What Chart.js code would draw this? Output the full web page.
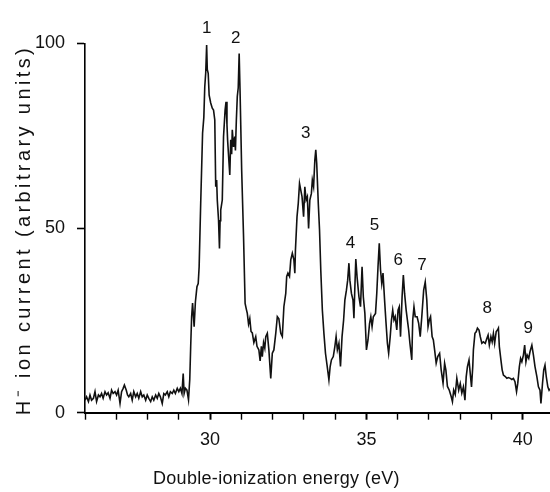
<!DOCTYPE html>
<html>
<head>
<meta charset="utf-8">
<script src="https://cdn.jsdelivr.net/npm/chart.js@4.4.0/dist/chart.umd.min.js"></script>
<style>
  html, body { margin: 0; padding: 0; background: #fff; }
  #wrap { width: 550px; height: 492px; }
</style>
</head>
<body>
<div id="wrap"><canvas id="chart" width="550" height="492"></canvas></div>
<script>
// double-ionization energy (eV)
const energy = [
  26.00, 26.05, 26.11, 26.16, 26.21, 26.27, 26.32, 26.37, 26.43, 26.48, 26.53, 26.58, 26.64, 26.69, 26.74, 26.80,
  26.85, 26.90, 26.96, 27.01, 27.06, 27.12, 27.17, 27.22, 27.26, 27.32, 27.36, 27.40, 27.46, 27.51, 27.56, 27.62,
  27.67, 27.72, 27.78, 27.83, 27.88, 27.94, 27.99, 28.04, 28.10, 28.15, 28.20, 28.26, 28.31, 28.36, 28.41, 28.47,
  28.52, 28.57, 28.63, 28.68, 28.73, 28.79, 28.84, 28.89, 28.95, 29.00, 29.05, 29.10, 29.14, 29.17, 29.21, 29.26,
  29.31, 29.35, 29.38, 29.41, 29.44, 29.49, 29.53, 29.58, 29.62, 29.65, 29.70, 29.76, 29.80, 29.83, 29.86, 29.89,
  29.91, 29.94, 29.97, 30.02, 30.07, 30.11, 30.15, 30.18, 30.21, 30.23, 30.27, 30.30, 30.32, 30.34, 30.39, 30.43,
  30.48, 30.51, 30.54, 30.56, 30.60, 30.63, 30.66, 30.69, 30.71, 30.75, 30.79, 30.81, 30.84, 30.87, 30.90, 30.93,
  30.96, 31.01, 31.07, 31.12, 31.16, 31.19, 31.23, 31.27, 31.31, 31.35, 31.40, 31.46, 31.50, 31.56, 31.60, 31.64,
  31.67, 31.71, 31.75, 31.78, 31.83, 31.88, 31.94, 31.99, 32.04, 32.10, 32.15, 32.20, 32.26, 32.31, 32.36, 32.42,
  32.45, 32.49, 32.54, 32.58, 32.63, 32.68, 32.71, 32.73, 32.78, 32.82, 32.86, 32.90, 32.94, 32.99, 33.03, 33.07,
  33.11, 33.15, 33.19, 33.24, 33.27, 33.31, 33.35, 33.38, 33.41, 33.46, 33.50, 33.54, 33.59, 33.64, 33.69, 33.76,
  33.80, 33.84, 33.88, 33.94, 33.99, 34.03, 34.07, 34.12, 34.17, 34.22, 34.27, 34.31, 34.36, 34.40, 34.44, 34.47,
  34.52, 34.57, 34.60, 34.63, 34.66, 34.70, 34.76, 34.81, 34.86, 34.90, 34.95, 35.00, 35.05, 35.10, 35.14, 35.18,
  35.22, 35.29, 35.33, 35.37, 35.41, 35.45, 35.49, 35.53, 35.58, 35.62, 35.67, 35.71, 35.76, 35.80, 35.84, 35.88,
  35.92, 35.97, 36.01, 36.05, 36.09, 36.14, 36.18, 36.22, 36.27, 36.31, 36.35, 36.39, 36.45, 36.48, 36.52, 36.56,
  36.62, 36.67, 36.72, 36.77, 36.83, 36.88, 36.93, 36.97, 37.01, 37.05, 37.10, 37.14, 37.18, 37.23, 37.28, 37.34,
  37.39, 37.45, 37.50, 37.54, 37.59, 37.65, 37.71, 37.75, 37.79, 37.84, 37.89, 37.95, 38.00, 38.05, 38.10, 38.15,
  38.19, 38.23, 38.28, 38.32, 38.36, 38.40, 38.42, 38.47, 38.51, 38.55, 38.60, 38.64, 38.69, 38.74, 38.80, 38.85,
  38.89, 38.93, 38.98, 39.02, 39.06, 39.10, 39.15, 39.19, 39.22, 39.25, 39.30, 39.34, 39.38, 39.44, 39.49, 39.54,
  39.60, 39.65, 39.70, 39.75, 39.80, 39.84, 39.89, 39.93, 39.97, 40.02, 40.06, 40.10, 40.14, 40.19, 40.23, 40.29,
  40.34, 40.39, 40.45, 40.50, 40.55, 40.58, 40.63, 40.67, 40.71, 40.75, 40.80, 40.84, 40.87
];

// H- ion current (arbitrary units)
const current = [
  3.4, 4.3, 3.0, 4.8, 3.4, 3.9, 5.7, 3.0, 4.8, 4.3, 5.2, 3.9, 5.7, 4.8, 5.4, 3.9,
  6.1, 5.2, 5.7, 4.8, 6.1, 2.5, 5.7, 6.6, 7.5, 6.1, 4.8, 4.3, 5.2, 3.4, 5.7, 4.3,
  5.2, 3.9, 5.7, 4.3, 4.8, 3.4, 4.8, 3.9, 3.0, 4.3, 3.4, 4.8, 3.9, 5.2, 4.3, 2.5,
  5.2, 4.8, 5.7, 4.3, 5.7, 5.2, 6.1, 5.2, 6.6, 5.7, 6.6, 5.2, 10.6, 5.2, 6.6, 6.1,
  3.5, 9.0, 18.0, 26.0, 29.7, 23.3, 30.0, 34.1, 35.0, 39.5, 56.8, 75.7, 80.0, 88.3, 92.0, 99.6,
  93.0, 91.9, 86.0, 83.9, 82.5, 82.0, 79.3, 61.2, 63.0, 57.6, 52.2, 44.5, 52.0, 54.9, 57.6, 74.8,
  82.0, 84.2, 78.0, 73.9, 68.4, 64.4, 73.9, 70.0, 76.6, 72.0, 74.8, 71.0, 79.3, 85.6, 88.0, 97.3,
  86.5, 65.7, 47.7, 29.6, 28.0, 26.9, 24.0, 25.5, 22.0, 21.6, 19.0, 20.6, 18.0, 17.0, 14.0, 18.0,
  15.2, 19.0, 17.5, 20.6, 21.5, 17.0, 9.3, 16.1, 17.0, 21.5, 26.0, 25.4, 21.5, 20.6, 28.7, 32.3,
  36.9, 37.8, 36.9, 41.4, 43.2, 41.4, 37.8, 44.1, 53.1, 56.7, 62.1, 60.3, 58.5, 53.1, 61.2, 57.6,
  58.5, 49.9, 57.6, 59.4, 63.0, 61.2, 68.4, 71.2, 67.5, 56.7, 49.5, 38.6, 27.8, 21.5, 16.1, 11.6,
  8.9, 12.5, 14.3, 15.2, 17.9, 20.6, 17.0, 18.8, 12.5, 20.6, 25.1, 30.5, 33.2, 35.9, 40.5, 35.9,
  32.3, 30.5, 25.6, 34.1, 41.6, 36.8, 31.4, 28.7, 39.5, 31.4, 26.9, 17.0, 19.7, 24.2, 26.0, 23.3,
  26.0, 26.9, 32.3, 39.5, 45.9, 38.7, 35.0, 37.8, 30.5, 25.1, 18.8, 16.1, 20.6, 25.1, 27.8, 25.1,
  26.0, 22.4, 27.8, 28.7, 20.6, 31.4, 37.3, 32.3, 27.8, 25.1, 22.4, 18.8, 14.3, 25.1, 28.7, 26.0,
  26.0, 24.2, 20.6, 26.0, 33.2, 35.4, 30.5, 23.3, 25.1, 26.0, 20.6, 19.7, 17.0, 13.4, 15.2, 16.1,
  11.6, 8.0, 13.4, 11.6, 7.1, 6.1, 4.4, 3.0, 6.1, 4.9, 9.3, 6.1, 7.9, 5.3, 7.0, 3.4,
  9.7, 12.5, 14.3, 10.6, 7.0, 12.5, 17.0, 21.5, 21.9, 22.9, 22.4, 20.6, 18.8, 19.2, 18.8, 20.1,
  21.0, 18.3, 20.6, 19.2, 21.5, 18.8, 22.0, 22.4, 22.9, 17.9, 14.3, 11.6, 10.2, 9.8, 9.3, 9.5,
  9.3, 9.0, 9.3, 8.4, 5.7, 8.0, 12.5, 14.7, 13.8, 15.6, 18.3, 13.8, 15.6, 14.7, 16.5, 18.3,
  15.6, 12.5, 9.8, 7.0, 6.1, 2.5, 7.9, 11.6, 12.9, 9.8, 7.0, 6.1, 6.5
];

// numbered peak labels, placed in data coordinates
const peakLabels = ['1', '2', '3', '4', '5', '6', '7', '8', '9'];
const peakX = [29.89, 30.82, 33.06, 34.49, 35.26, 36.02, 36.78, 38.86, 40.17];
const peakY = [104.2, 101.5, 75.7, 45.9, 50.8, 41.4, 40.0, 28.3, 22.9];

const xTitle = 'Double-ionization energy (eV)';
const yTitle = 'H\u207B ion current (arbitrary units)';

const FONT = '"Liberation Sans", Arial, Helvetica, sans-serif';

const annotate = {
    id: 'annotate',
    afterDraw(chart) {
        const ctx = chart.ctx;
        const xs = chart.scales.x;
        const ys = chart.scales.y;
        ctx.save();
        ctx.fillStyle = '#111';

        // peak numbers
        ctx.font = '17px ' + FONT;
        ctx.textAlign = 'center';
        ctx.textBaseline = 'middle';
        peakLabels.forEach((t, i) => {
            ctx.fillText(t, xs.getPixelForValue(peakX[i]), ys.getPixelForValue(peakY[i]));
        });

        // axis titles (letter-spaced like the original)
        ctx.textAlign = 'left';
        ctx.textBaseline = 'alphabetic';
        ctx.font = '18px ' + FONT;
        ctx.letterSpacing = '0.3px';
        ctx.fillText(xTitle, 153, 484);

        ctx.font = '20px ' + FONT;
        ctx.letterSpacing = '3.4px';
        const w = ctx.measureText(yTitle).width;
        ctx.translate(30, 230 + w / 2);
        ctx.rotate(-Math.PI / 2);
        ctx.fillText(yTitle, 0, 0);
        ctx.restore();
    }
};

new Chart(document.getElementById('chart'), {
    type: 'line',
    data: {
        datasets: [{
            data: energy.map((x, i) => ({ x: x, y: current[i] })),
            borderColor: '#111',
            borderWidth: 1.6,
            pointRadius: 0,
            tension: 0,
            fill: false,
            clip: false
        }]
    },
    options: {
        responsive: false,
        animation: false,
        devicePixelRatio: 1,
        layout: { padding: { top: 43.5, right: 0, bottom: 0, left: 0 } },
        plugins: {
            legend: { display: false },
            tooltip: { enabled: false },
            title: { display: false }
        },
        scales: {
            x: {
                type: 'linear',
                min: 26,
                max: 40.87,
                afterFit: s => { s.height = 79.3; },
                border: { color: '#000', width: 2 },
                grid: {
                    drawOnChartArea: false,
                    tickLength: 7,
                    tickColor: '#000',
                    tickWidth: c => (c.tick && c.tick.value % 5 === 0 ? 2 : 1.4)
                },
                ticks: {
                    stepSize: 1,
                    includeBounds: false,
                    autoSkip: false,
                    maxRotation: 0,
                    padding: 10,
                    color: '#111',
                    font: { family: FONT, size: 18 },
                    callback: v => (v % 5 === 0 ? String(v) : '')
                }
            },
            y: {
                min: 0,
                max: 100,
                afterFit: s => { s.width = 85; },
                border: { color: '#000', width: 1.6 },
                grid: {
                    drawOnChartArea: false,
                    tickLength: 8,
                    tickColor: '#000',
                    tickWidth: 1.6
                },
                ticks: {
                    stepSize: 50,
                    padding: 12,
                    color: '#111',
                    font: { family: FONT, size: 18 }
                }
            }
        }
    },
    plugins: [annotate]
});
</script>
</body>
</html>
